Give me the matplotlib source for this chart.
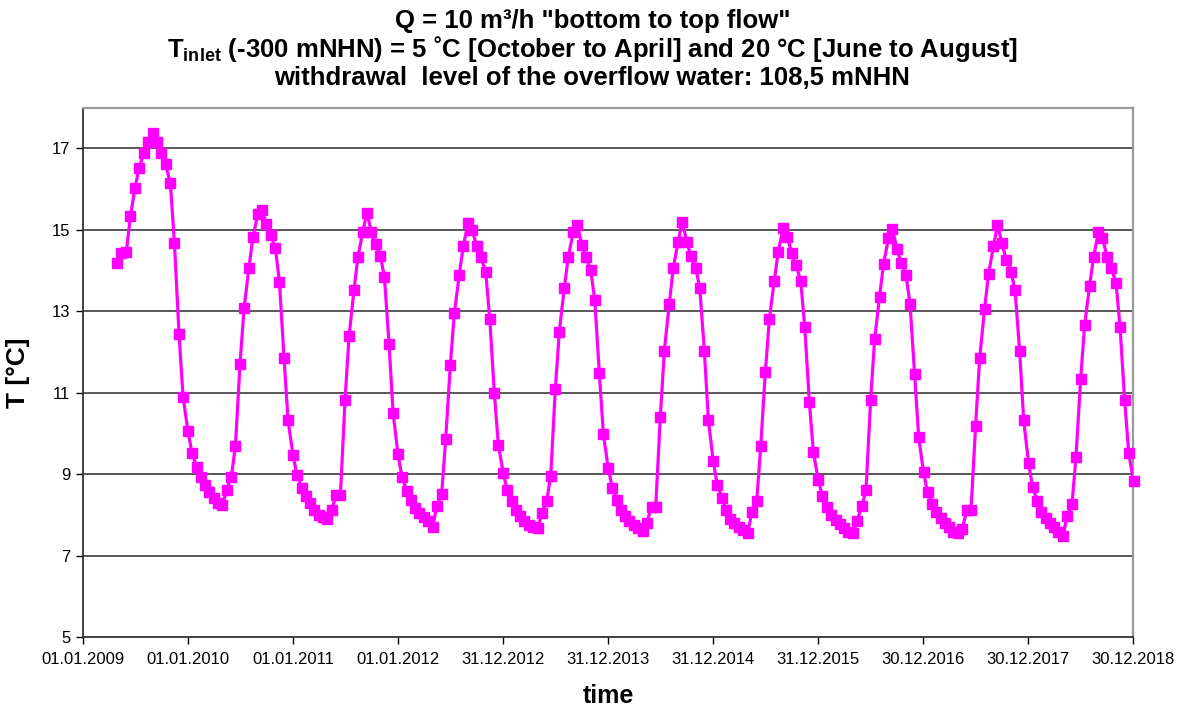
import matplotlib
matplotlib.use("Agg")
import matplotlib.pyplot as plt
import matplotlib.dates as mdates
import pandas as pd
import numpy as np

plt.rcParams['font.family'] = ['Liberation Sans', 'DejaVu Sans']
plt.rcParams['mathtext.fontset'] = 'custom'
plt.rcParams['mathtext.rm'] = 'Liberation Sans'
plt.rcParams['mathtext.bf'] = 'Liberation Sans:bold'

# semi-monthly values (1st and 15th of each month), temperature in °C
t_2009 = [14.18, 14.42, 14.46, 15.34, 16.02, 16.52, 16.88, 17.15, 17.38, 17.15, 16.89, 16.61,
          16.14, 14.67, 12.44, 10.90]  # from 01.05.2009
t_2010 = [10.05, 9.52, 9.17, 8.92, 8.72, 8.56, 8.41, 8.30, 8.23, 8.61, 8.94, 9.69,
          11.71, 13.07, 14.07, 14.82, 15.39, 15.49, 15.13, 14.87, 14.54, 13.72, 11.85, 10.32]
t_2011 = [9.47, 8.98, 8.67, 8.47, 8.29, 8.12, 8.00, 7.95, 7.90, 8.12, 8.49, 8.49,
          10.81, 12.38, 13.51, 14.34, 14.95, 15.42, 14.95, 14.64, 14.36, 13.83, 12.20, 10.51]
t_2012 = [9.49, 8.93, 8.59, 8.37, 8.17, 8.04, 7.94, 7.84, 7.71, 8.22, 8.52, 9.86,
          11.68, 12.95, 13.89, 14.60, 15.17, 14.99, 14.60, 14.33, 13.97, 12.82, 10.99, 9.72]
t_2013 = [9.02, 8.61, 8.34, 8.12, 7.98, 7.85, 7.76, 7.71, 7.67, 8.04, 8.34, 8.96,
          11.09, 12.50, 13.56, 14.33, 14.94, 15.12, 14.63, 14.33, 14.01, 13.28, 11.48, 9.99]
t_2014 = [9.14, 8.66, 8.37, 8.12, 7.96, 7.84, 7.76, 7.67, 7.61, 7.81, 8.20, 8.20,
          10.41, 12.03, 13.18, 14.06, 14.71, 15.20, 14.71, 14.36, 14.06, 13.58, 12.03, 10.33]
t_2015 = [9.31, 8.74, 8.41, 8.12, 7.90, 7.80, 7.71, 7.63, 7.55, 8.06, 8.34, 9.68,
          11.50, 12.80, 13.75, 14.46, 15.04, 14.83, 14.42, 14.14, 13.75, 12.61, 10.78, 9.54]
t_2016 = [8.86, 8.47, 8.20, 8.00, 7.88, 7.77, 7.67, 7.59, 7.55, 7.86, 8.22, 8.61,
          10.82, 12.31, 13.36, 14.16, 14.79, 15.01, 14.52, 14.19, 13.89, 13.18, 11.46, 9.92]
t_2017 = [9.04, 8.55, 8.27, 8.06, 7.92, 7.79, 7.69, 7.59, 7.55, 7.65, 8.12, 8.12,
          10.19, 11.84, 13.05, 13.92, 14.59, 15.11, 14.67, 14.26, 13.97, 13.52, 12.03, 10.33]
t_2018 = [9.27, 8.68, 8.33, 8.08, 7.92, 7.80, 7.69, 7.59, 7.49, 7.97, 8.26, 9.43,
          11.33, 12.66, 13.62, 14.33, 14.94, 14.79, 14.34, 14.06, 13.70, 12.62, 10.82, 9.53]
t_2019 = [8.82, 8.40]

values = (t_2009 + t_2010 + t_2011 + t_2012 + t_2013 + t_2014 + t_2015 + t_2016
          + t_2017 + t_2018 + t_2019)
dates = pd.date_range('2009-05-01', periods=len(values), freq='SMS')

tick_dates = pd.date_range('2009-01-01', periods=11, freq='365D')
y_ticks = [5, 7, 9, 11, 13, 15, 17]

title_lines = [
    'Q = 10 m³/h "bottom to top flow"',
    r'T$_{\mathbf{inlet}}$ (-300 mNHN) = 5 ˚C [October to April] and 20 °C [June to August]',
    'withdrawal  level of the overflow water: 108,5 mNHN',
]

fig = plt.figure(figsize=(11.85, 7.07), dpi=100)
ax = fig.add_axes([0.0700, 0.0990, 0.8861, 0.7489])

magenta = '#FF00FF'
ax.plot(dates, values, color=magenta, lw=2.3, zorder=3, clip_on=True)
xmax = tick_dates[-1]
mask = dates <= xmax + pd.Timedelta(days=3)
ax.plot(dates[mask], np.array(values)[mask], ls='none', marker='s', ms=7.0,
        color=magenta, zorder=4, clip_on=False)

ax.set_xlim(tick_dates[0], tick_dates[-1])
ax.set_ylim(5, 18)
ax.set_yticks(y_ticks)
ax.set_xticks(tick_dates)
ax.set_xticklabels([d.strftime('%d.%m.%Y') for d in tick_dates], fontsize=12)
ax.tick_params(axis='y', labelsize=12, direction='out', length=5, width=1, pad=4)
ax.tick_params(axis='x', direction='out', length=5, width=1, pad=6)

for v in y_ticks[1:]:
    ax.axhline(v, color='#2b2b2b', lw=1.1, zorder=1)

for s in ['left', 'bottom']:
    ax.spines[s].set_color('#333333')
    ax.spines[s].set_linewidth(1.3)
for s in ['top', 'right']:
    ax.spines[s].set_color('#9a9a9a')
    ax.spines[s].set_linewidth(1.6)

ax.set_ylabel('T [°C]', fontsize=19, fontweight='bold', labelpad=16)
ax.set_xlabel('time', fontsize=18, fontweight='bold', labelpad=12)

for i, line in enumerate(title_lines):
    fig.text(0.5, 1 - (21 + 28.5 * i) / 707, line, ha='center', va='center',
             fontsize=18.5, fontweight='bold')

fig.savefig('out.png', dpi=100)
